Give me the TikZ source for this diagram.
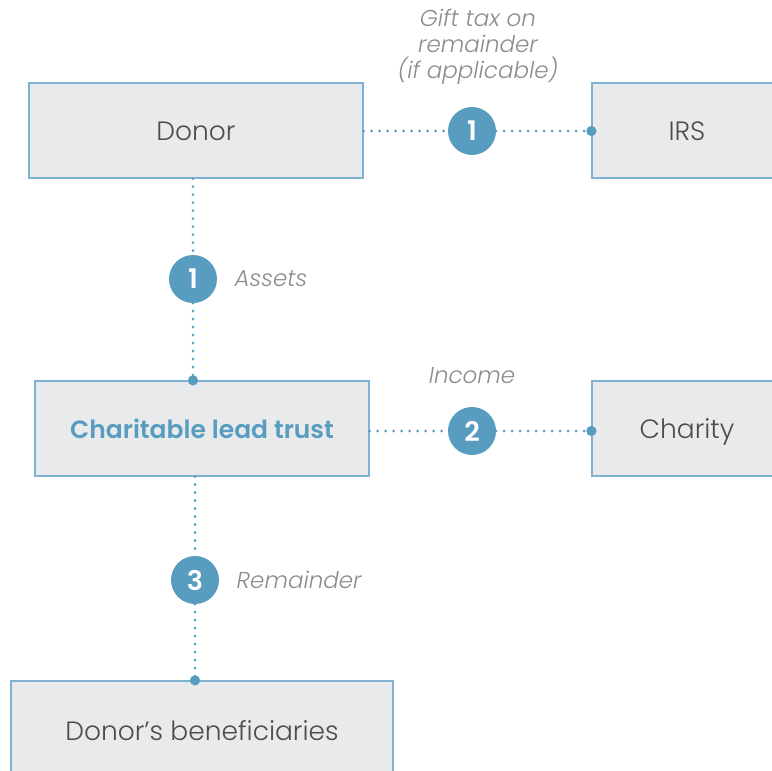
\documentclass[tikz,border=0pt]{standalone}
\usepackage{fontspec}
\setmainfont{Poppins Light}[ItalicFont={Poppins Light Italic},BoldFont={Poppins SemiBold}]
\usetikzlibrary{positioning,arrows.meta}
\definecolor{stepblue}{HTML}{589DC0}
\definecolor{boxline}{HTML}{7FB2D0}
\definecolor{boxfill}{HTML}{E9EAEC}
\definecolor{textgray}{HTML}{4D4D4F}
\definecolor{notegray}{HTML}{8C8C8E}
\begin{document}
\begin{tikzpicture}[x=1pt,y=1pt,
  party/.style={draw=boxline,fill=boxfill,line width=1.2pt,minimum height=95pt,
    text height=22pt,text depth=2pt,text=textgray,font=\fontsize{26.5}{30}\selectfont},
  stepno/.style={circle,fill=stepblue,minimum size=48pt,inner sep=0pt,
    text=white,font=\bfseries\fontsize{27}{30}\selectfont},
  flow/.style={draw=stepblue,line width=3pt,line cap=round,dash pattern=on 0pt off 8pt},
  flowend/.style={flow,-{Circle[length=10pt,width=10pt]},shorten >=-5pt},
  note/.style={text=notegray,font=\itshape\fontsize{23}{26}\selectfont}]
\useasboundingbox (0,0) rectangle (772,-771);
\clip (0,0) rectangle (772,-771);
% parties
\node [party,minimum width=334pt] (donor) at (196,-130.5) {Donor};
\node [party,minimum width=190pt] (irs) at (687,-130.5) {IRS};
\node [party,minimum width=334pt,text=stepblue,font=\bfseries\fontsize{25}{30}\selectfont] (trust) at (202,-428.5) {Charitable lead trust};
\node [party,minimum width=190pt] (charity) at (687,-428.5) {Charity};
\node [party,minimum width=382pt,minimum height=98pt] (heirs) at (202,-730) {Donor’s beneficiaries};
% steps
\node [stepno] (tax) at (472,-131) {1};
\node [stepno] (assets) at (193,-279) {1};
\node [stepno] (income) at (472,-431) {2};
\node [stepno] (rest) at (195,-580) {3};
\node [note,align=center] (taxnote) at (478,-47) {Gift tax on\\remainder\\(if applicable)};
\node [note,right=14pt of assets] (assetsnote) {Assets};
\node [note,above=20pt of income] (incomenote) {Income};
\node [note,right=14pt of rest] (restnote) {Remainder};
% flows
\draw [flow] (donor.east |- tax) -- (tax);
\draw [flowend] (tax) -- (irs.west |- tax);
\draw [flow] (assets |- donor.south) -- (assets);
\draw [flowend] (assets) -- (assets |- trust.north);
\draw [flow] (trust.east |- income) -- (income);
\draw [flowend] (income) -- (charity.west |- income);
\draw [flow] (rest |- trust.south) -- (rest);
\draw [flowend] (rest) -- (rest |- heirs.north);
\end{tikzpicture}
\end{document}
